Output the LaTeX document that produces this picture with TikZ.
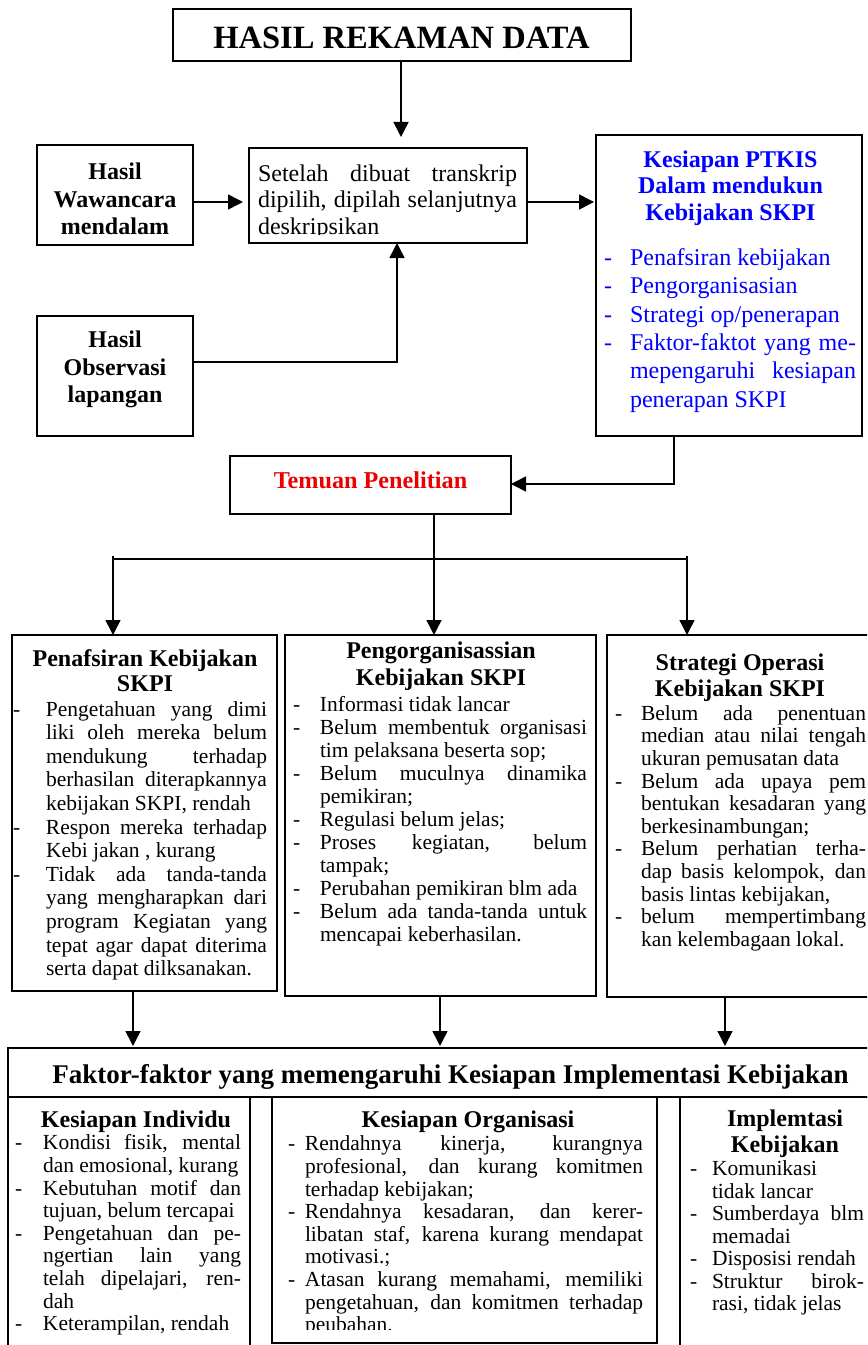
\documentclass[tikz,border=0pt]{standalone}
\usepackage{fontspec}
\setmainfont{Liberation Serif}
\usetikzlibrary{arrows.meta}
\definecolor{ptblue}{RGB}{0,0,255}
\definecolor{ptred}{RGB}{235,0,0}
\newlength\dind
% list item with a hanging dash
\newcommand\di{\par\noindent\hangindent=\dind\hangafter=1\strut\makebox[\dind][l]{-}}
\newcommand\bsz[2]{\fontsize{#1bp}{#2bp}\selectfont}
\tolerance=10000 \hbadness=10000 \hfuzz=4pt
\hyphenpenalty=10000 \exhyphenpenalty=10000
\setlength\parindent{0pt}
\begin{document}
\begin{tikzpicture}[x=1bp,y=-1bp,
  frame/.style={draw, line width=1.7bp, inner sep=0pt, outer sep=0pt, anchor=north west},
  conn/.style={line width=1.5bp},
  arr/.style={conn, -{Triangle[length=15bp,width=15bp]}},
  blk/.style={inner sep=0pt, outer sep=0pt, anchor=north west, align=justify},
  hdr/.style={inner sep=0pt, outer sep=0pt, anchor=north, align=center},
  one/.style={inner sep=0pt, outer sep=0pt, anchor=base},
  body/.style={font=\bsz{21.5}{#1}},
  hb/.style={font=\bsz{24}{#1}\bfseries}]
\useasboundingbox (0,0) rectangle (867,1345);
\fill[white] (0,0) rectangle (867,1345);
\clip (0,0) rectangle (867,1345);

% ---------- boxes ----------
\node[frame, minimum width=458bp, minimum height=52bp]  (title)  at (173,9) {};
\node[frame, minimum width=156bp, minimum height=100bp] (wawa)   at (37,145) {};
\node[frame, minimum width=278bp, minimum height=95bp]  (proc)   at (249,148) {};
\node[frame, minimum width=266bp, minimum height=301bp] (ptkis)  at (596,135) {};
\node[frame, minimum width=156bp, minimum height=120bp] (obs)    at (37,316) {};
\node[frame, minimum width=281bp, minimum height=58bp]  (temuan) at (230,456) {};
\node[frame, minimum width=265bp, minimum height=356bp] (bl)     at (12,635) {};
\node[frame, minimum width=311bp, minimum height=361bp] (bm)     at (285,635) {};
\node[frame, minimum width=273bp, minimum height=362bp] (br)     at (607,635) {};
\node[frame, minimum width=880bp, minimum height=49bp]  (fak)    at (8,1048) {};
\node[frame, minimum width=242bp, minimum height=265bp] (si)     at (8,1097) {};
\node[frame, minimum width=385bp, minimum height=246bp] (so)     at (272,1097) {};
\node[frame, minimum width=220bp, minimum height=265bp] (sk)     at (680,1097) {};

% ---------- reference points for connectors ----------
\coordinate (xTitle) at (401,0);
\coordinate (yIn)    at (0,202);
\coordinate (yObs)   at (0,362);
\coordinate (xObs)   at (397,0);
\coordinate (xPt)    at (674,0);
\coordinate (yTem)   at (0,484);
\coordinate (split)  at (434,559);
\coordinate (splitL) at (113,559);
\coordinate (splitR) at (687,559);
\coordinate (xL)     at (133,0);
\coordinate (xM)     at (440,0);
\coordinate (xR)     at (725,0);

% ---------- connectors ----------
\draw[arr, shorten >=11bp] (title.south -| xTitle) -- (proc.north -| xTitle);
\draw[arr, shorten >=6bp]  (wawa.east |- yIn) -- (proc.west |- yIn);
\draw[arr, shorten >=2bp]  (proc.east |- yIn) -- (ptkis.west |- yIn);
\draw[arr] (obs.east |- yObs) -| (proc.south -| xObs);
\draw[arr] (ptkis.south -| xPt) |- (temuan.east |- yTem);
\draw[conn] (temuan.south -| split) -- (split);
\draw[conn] (splitL) -- (splitR);
\draw[arr] ([yshift=3bp]splitL) -- (bl.north -| splitL);
\draw[arr] (split) -- (bm.north -| split);
\draw[arr] ([yshift=3bp]splitR) -- (br.north -| splitR);
\draw[arr, shorten >=2bp] (bl.south -| xL) -- (fak.north -| xL);
\draw[arr, shorten >=2bp] (bm.south -| xM) -- (fak.north -| xM);
\draw[arr, shorten >=2bp] (br.south -| xR) -- (fak.north -| xR);

% ---------- texts ----------
\node[one, font=\bsz{32.5}{38}\bfseries] (titletext) at (401.5,48.5) {HASIL REKAMAN DATA};

\node[hdr, hb=27.4] (wawatext) at (115,160.8)
  {\strut Hasil\\\strut Wawancara\\\strut mendalam};
\node[hdr, hb=27.7] (obstext) at (115,328.1)
  {\strut Hasil\\\strut Observasi\\\strut lapangan};

\begin{scope}
  \clip (249,148) rectangle (527,234.5);
  \node[blk, text width=259bp, font=\bsz{24}{26.5}] (proctext) at (258,162.95)
    {\strut Setelah dibuat transkrip\linebreak dipilih, dipilah selanjutnya\linebreak deskripsikan\par};
\end{scope}

\node[hdr, hb=26.5, text=ptblue] (ptkishead) at (730.5,148.95)
  {\strut Kesiapan PTKIS\\\strut Dalam mendukun\\\strut Kebijakan SKPI};
\node[blk, text width=252bp, font=\bsz{24}{28.3}, text=ptblue] (ptkislist) at (604,237.2)
  {\setlength\dind{26bp}%
   \di Penafsiran kebijakan
   \di Pengorganisasian
   \di Strategi op/penerapan
   \di Faktor-faktot yang me-\linebreak mepengaruhi kesiapan\linebreak penerapan SKPI\par};

\node[one, font=\bsz{24.2}{28}\bfseries, text=ptred] (temuantext) at (370.5,488.2) {Temuan Penelitian};

% left finding
\node[hdr, hb=25.5] (blhead) at (145,648.15)
  {\strut Penafsiran Kebijakan\\\strut SKPI};
\node[blk, text width=254bp, body=23.6] (bllist) at (13,692.5)
  {\setlength\dind{33bp}%
   \di Pengetahuan yang dimi\linebreak liki oleh mereka belum\linebreak mendukung terhadap\linebreak berhasilan diterapkannya\linebreak kebijakan SKPI, rendah
   \di Respon mereka terhadap\linebreak Kebi jakan , kurang
   \di Tidak ada tanda-tanda\linebreak yang mengharapkan dari\linebreak program Kegiatan yang\linebreak tepat agar dapat diterima\linebreak serta dapat dilksanakan.\par};

% middle finding
\node[hdr, hb=26.5] (bmhead) at (441,640)
  {\strut Pengorganisassian\\\strut Kebijakan SKPI};
\node[blk, text width=294bp, body=23] (bmlist) at (293,688.4)
  {\setlength\dind{27bp}%
   \di Informasi tidak lancar
   \di Belum membentuk organisasi\linebreak tim pelaksana beserta sop;
   \di Belum muculnya dinamika\linebreak pemikiran;
   \di Regulasi belum jelas;
   \di Proses kegiatan, belum\linebreak tampak;
   \di Perubahan pemikiran blm ada
   \di Belum ada tanda-tanda untuk\linebreak mencapai keberhasilan.\par};

% right finding
\node[hdr, hb=26] (brhead) at (740,651.8)
  {\strut Strategi Operasi\\\strut Kebijakan SKPI};
\node[blk, text width=251bp, body=22.6] (brlist) at (615,697.7)
  {\setlength\dind{26bp}%
   \di Belum ada penentuan\linebreak median atau nilai tengah\linebreak ukuran pemusatan data
   \di Belum ada upaya pem\linebreak bentukan kesadaran yang\linebreak berkesinambungan;
   \di Belum perhatian terha-\linebreak dap basis kelompok, dan\linebreak basis lintas kebijakan,
   \di belum mempertimbang\linebreak kan kelembagaan lokal.\par};

% factors
\node[one, font=\bsz{27}{31}\bfseries] (faktext) at (450.5,1083)
  {Faktor-faktor yang memengaruhi Kesiapan Implementasi Kebijakan};

\node[one, font=\bsz{24}{28}\bfseries] (sihead) at (136,1127) {Kesiapan Individu};
\node[blk, text width=226bp, body=22.6] (silist) at (15,1127.2)
  {\setlength\dind{28bp}%
   \di Kondisi fisik, mental\linebreak dan emosional, kurang
   \di Kebutuhan motif dan\linebreak tujuan, belum tercapai
   \di Pengetahuan dan pe-\linebreak ngertian lain yang\linebreak telah dipelajari, ren-\linebreak dah
   \di Keterampilan, rendah\par};

\node[one, font=\bsz{24}{28}\bfseries] (sohead) at (468,1127) {Kesiapan Organisasi};
\begin{scope}
  \clip (272,1097) rectangle (657,1329);
  \node[blk, text width=355bp, body=22.6] (solist) at (288,1128.2)
    {\setlength\dind{17bp}%
     \di Rendahnya kinerja, kurangnya\linebreak profesional, dan kurang komitmen\linebreak terhadap kebijakan;
     \di Rendahnya kesadaran, dan kerer-\linebreak libatan staf, karena kurang mendapat\linebreak motivasi.;
     \di Atasan kurang memahami, memiliki\linebreak pengetahuan, dan komitmen terhadap\linebreak peubahan.\par};
\end{scope}

\node[hdr, hb=26] (skhead) at (785,1108.5)
  {\strut Implemtasi\\\strut Kebijakan};
\node[blk, text width=174bp, body=22.5] (sklist) at (690,1153.25)
  {\setlength\dind{22bp}%
   \di Komunikasi\linebreak tidak lancar
   \di Sumberdaya blm\linebreak memadai
   \di Disposisi rendah
   \di Struktur birok-\linebreak rasi, tidak jelas\par};
\end{tikzpicture}
\end{document}
